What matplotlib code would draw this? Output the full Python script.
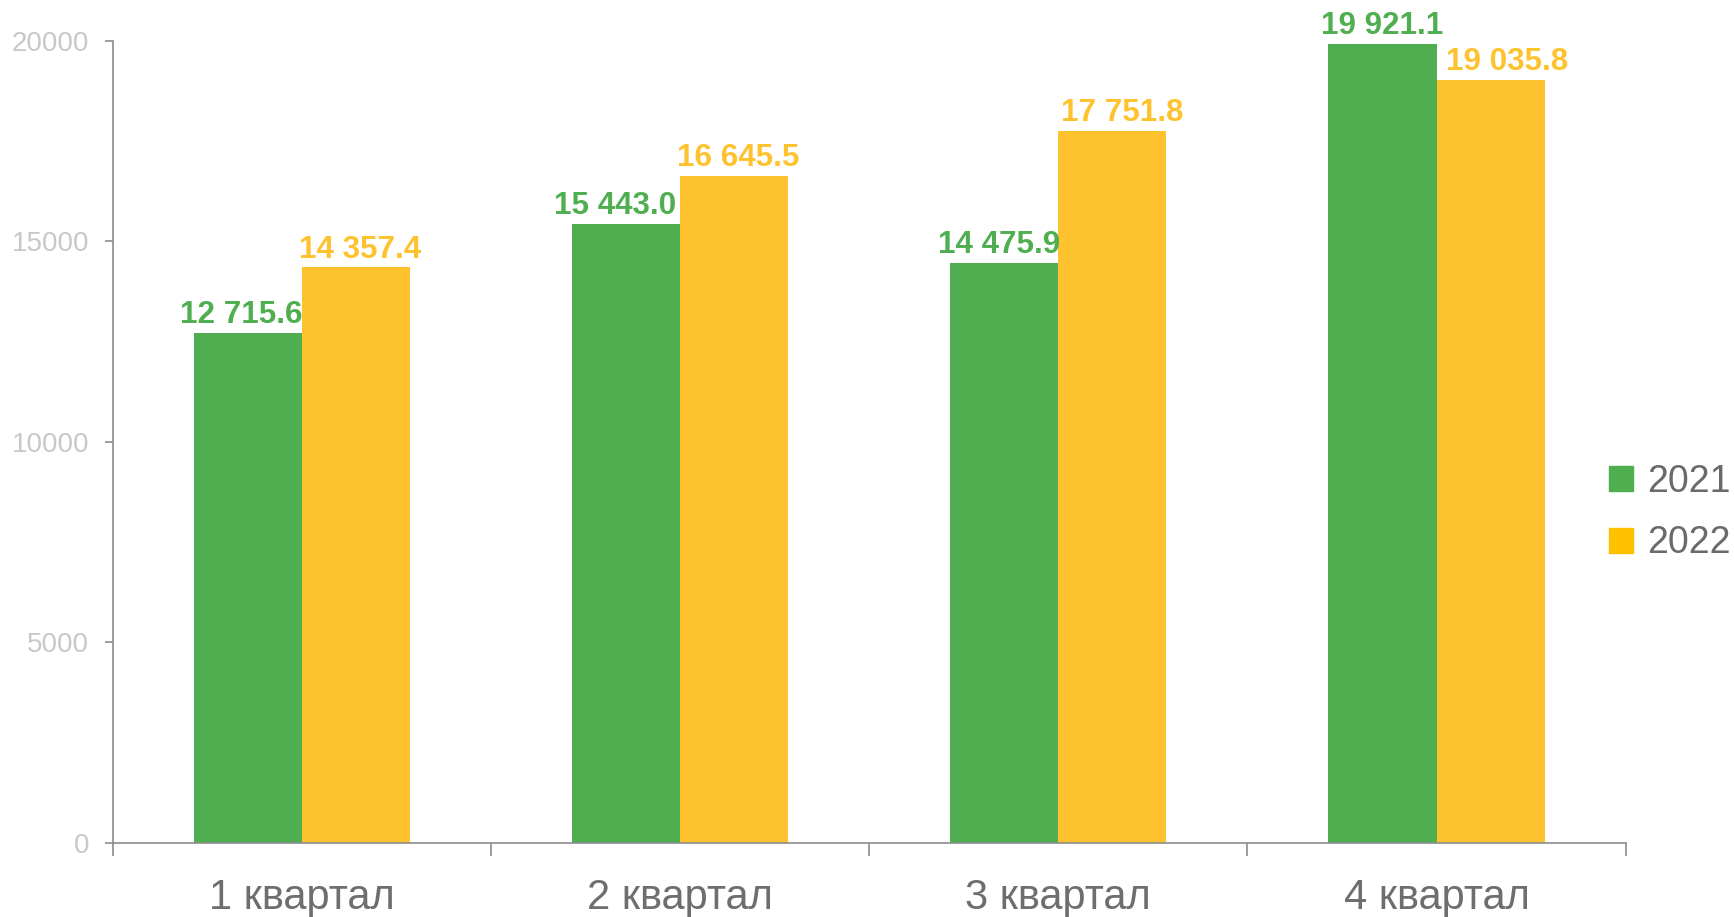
import numpy as np
import matplotlib.pyplot as plt
import matplotlib
from matplotlib.patches import Patch

matplotlib.rcParams['font.family'] = ['Liberation Sans', 'DejaVu Sans']

quarters = ['1 квартал', '2 квартал', '3 квартал', '4 квартал']
v2021 = [12715.6, 15443.0, 14475.9, 19921.1]
v2022 = [14357.4, 16645.5, 17751.8, 19035.8]
series_names = ['2021', '2022']

c_green = '#4FAF50'
c_yellow = '#FEC22F'
c_yellow_leg = '#FFC000'
c_axis = '#8c8c8c'

# small horizontal nudges of the value labels (points), as in the original
nudge_2021 = [-5, -8, -4, 0]
nudge_2022 = [3, 3, 7, 12]


def fmt(v):
    return '{:,.1f}'.format(v).replace(',', ' ')


fig = plt.figure(figsize=(17.34, 9.17), dpi=100)
ax = fig.add_axes([0.065, 0.0807, 0.8725, 0.8746])

x = np.arange(len(quarters))
w = 0.286
b1 = ax.bar(x - w/2, v2021, w, color=c_green)
b2 = ax.bar(x + w/2, v2022, w, color=c_yellow)

for bars, vals, col, nud in [(b1, v2021, c_green, nudge_2021),
                             (b2, v2022, c_yellow, nudge_2022)]:
    for r, v, dx in zip(bars, vals, nud):
        ax.annotate(fmt(v), (r.get_x() + r.get_width()/2, v), xytext=(dx, 7),
                    textcoords='offset points', ha='center', va='baseline',
                    fontsize=22.6, fontweight='bold', color=col)

ax.set_xlim(-0.5, 3.5)
ax.set_ylim(0, 20000)
ax.set_yticks([0, 5000, 10000, 15000, 20000])
ax.set_xticks(x)
ax.set_xticklabels(quarters)
ax.set_xticks(np.arange(-0.5, 4.0, 1.0), minor=True)

for s in ['top', 'right']:
    ax.spines[s].set_visible(False)
for s in ['left', 'bottom']:
    ax.spines[s].set_color(c_axis)
    ax.spines[s].set_linewidth(1.2)

ax.tick_params(axis='y', direction='out', length=6, width=1.2, color=c_axis,
               labelcolor='#c8c8c8', labelsize=20, pad=11)
ax.tick_params(axis='x', which='major', length=0, labelcolor='#6e6e6e',
               labelsize=30, pad=25)
ax.tick_params(axis='x', which='minor', direction='out', length=9.5, width=1.2,
               color=c_axis)

handles = [Patch(color=c_green), Patch(color=c_yellow_leg)]
fig.legend(handles, series_names, loc='center left', bbox_to_anchor=(0.928, 0.441),
           frameon=False, fontsize=27, labelcolor='#6a6a6a', handlelength=0.64,
           handleheight=0.64, handletextpad=0.38, labelspacing=0.68,
           borderpad=0, borderaxespad=0)

fig.savefig('out.png', dpi=100)
